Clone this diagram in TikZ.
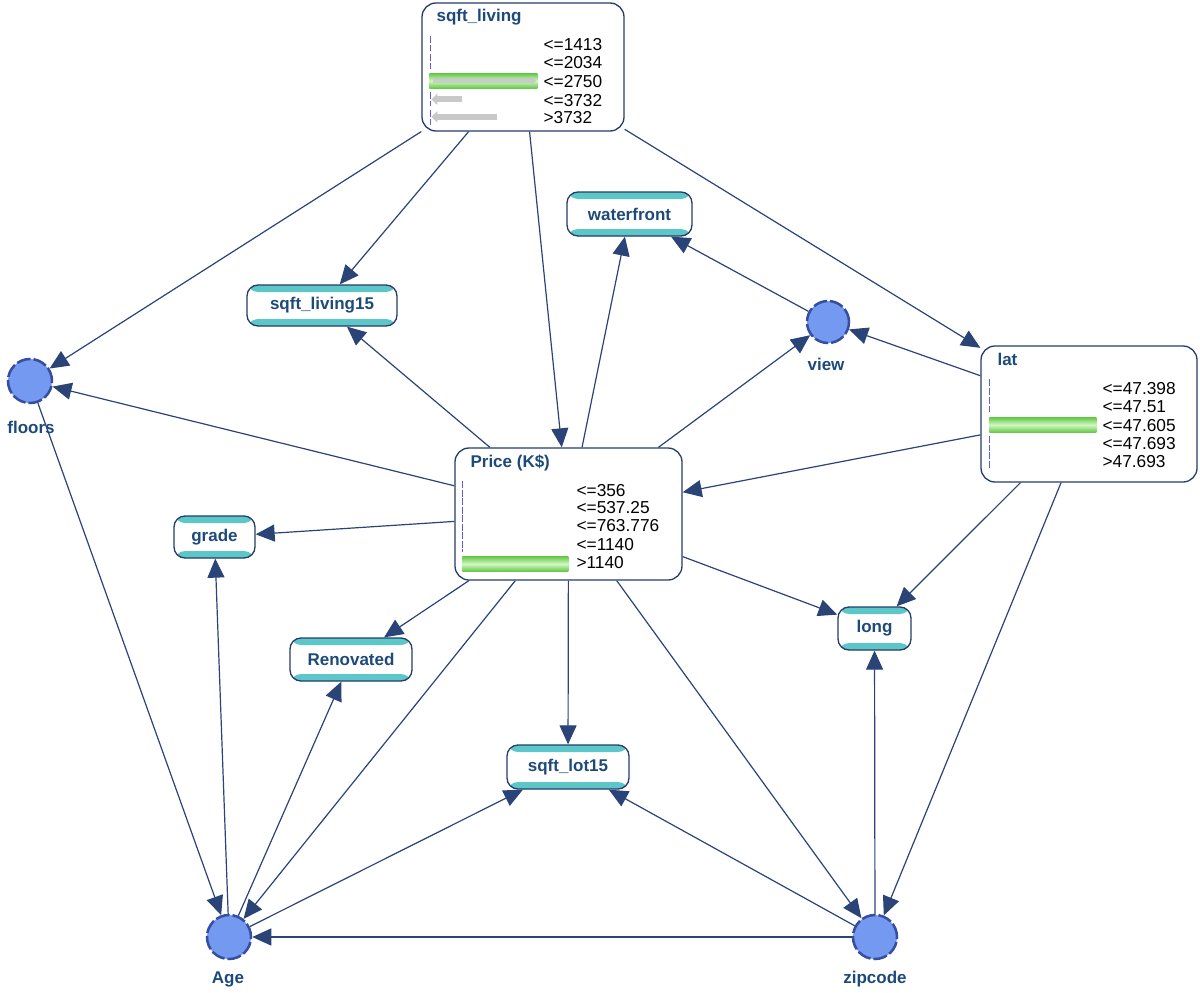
\documentclass[tikz,border=0pt]{standalone}
\usepackage{fontspec}
\setmainfont{Liberation Sans}
\usetikzlibrary{arrows.meta,calc}
\definecolor{edgec}{RGB}{42,68,120}
\definecolor{txtc}{RGB}{30,74,122}
\definecolor{bordc}{RGB}{36,60,105}
\definecolor{tealc}{RGB}{92,198,200}
\definecolor{circf}{RGB}{115,153,240}
\definecolor{circb}{RGB}{55,78,160}
\definecolor{gdark}{RGB}{100,200,70}
\definecolor{glight}{RGB}{210,247,195}
\definecolor{ghost}{RGB}{200,200,200}
\definecolor{zeroc}{RGB}{95,95,225}
\tikzset{
  edge/.style={draw=edgec, line width=1.2pt, -{Triangle[length=19pt,width=17pt]}},
  histbox/.style={draw=bordc, line width=1.3pt, fill=white, rounded corners=14pt, inner sep=0pt},
  pill/.style={draw=bordc, line width=1.3pt, fill=white, rounded corners=11pt, inner sep=0pt,
    font=\fontsize{17}{19}\selectfont\bfseries, text=txtc,
    path picture={
      \fill[tealc] (path picture bounding box.north west) rectangle ([yshift=-7pt]path picture bounding box.north east);
      \fill[tealc] (path picture bounding box.south west) rectangle ([yshift=7pt]path picture bounding box.south east);}},
  circ/.style={circle, fill=circf, draw=circb, line width=2.5pt, dash pattern=on 14pt off 3pt, minimum size=44pt, inner sep=0pt},
  lbl/.style={font=\fontsize{17}{19}\selectfont\bfseries, text=txtc},
  ttl/.style={font=\fontsize{17}{19}\selectfont\bfseries, text=txtc, anchor=base west, inner sep=0pt},
  rowtxt/.style={font=\fontsize{17.3}{19}\selectfont, anchor=base west, inner sep=0pt},
  gbar/.style={top color=gdark, bottom color=gdark, middle color=glight},
  ghostarrow/.style={draw=ghost, line width=6pt, -{Triangle[length=6pt,width=11pt]}},
  zeroline/.style={draw=zeroc, line width=1.3pt, dash pattern=on 7pt off 1.5pt}
}
\begin{document}
\begin{tikzpicture}[x=1pt,y=-1pt]
\useasboundingbox[fill=white] (0,0) rectangle (1200,993);

% histogram boxes
\node[histbox, minimum width=202pt, minimum height=128pt] (sl) at (523,67) {};
\node[histbox, minimum width=216pt, minimum height=136pt] (lat) at (1089,414) {};
\node[histbox, minimum width=227pt, minimum height=132pt] (pr) at (568.5,514) {};

% pills
\node[pill, minimum width=125pt, minimum height=44pt] (wf) at (629.5,214) {waterfront};
\node[pill, minimum width=150pt, minimum height=41pt] (sl15) at (322,305.5) {sqft\_living15};
\node[pill, minimum width=81pt, minimum height=42pt] (gr) at (214.5,537) {grade};
\node[pill, minimum width=122pt, minimum height=43pt] (ren) at (351,659.5) {Renovated};
\node[pill, minimum width=73pt, minimum height=43pt] (lg) at (874.5,628.5) {long};
\node[pill, minimum width=122pt, minimum height=44pt] (lot) at (568,767) {sqft\_lot15};

% circles
\node[circ] (fl) at (30,381) {};
\node[circ, minimum size=42pt] (vw) at (828,322) {};
\node[circ] (age) at (229,937) {};
\node[circ] (zip) at (875,937) {};
\node[lbl] (flL) at (31,427) {floors};
\node[lbl] (vwL) at (826,364) {view};
\node[lbl] (ageL) at (228,979) {Age};
\node[lbl] (zipL) at (875,979) {zipcode};

% sqft_living contents
\begin{scope}[shift={(sl.north west)}]
  \node[ttl] (slT) at (15,19) {sqft\_living};
  \draw[zeroline] (9,34) -- (9,49);
  \draw[zeroline] (9,52) -- (9,67);
  \shade[gbar] (8,71) rectangle (116,86);
  \draw[ghostarrow, line width=5pt, opacity=0.85, -{Triangle[length=5pt,width=9pt]}] (12,78.5) -- (115,78.5);
  \draw[zeroline] (9,90) -- (9,104);
  \draw[zeroline] (9,108) -- (9,123);
  \draw[ghostarrow] (41,97) -- (10,97);
  \draw[ghostarrow] (76,114.5) -- (10,114.5);
  \node[rowtxt] (sl1) at (122,48) {<=1413};
  \node[rowtxt] (sl2) at (122,66) {<=2034};
  \node[rowtxt] (sl3) at (122,85) {<=2750};
  \node[rowtxt] (sl4) at (122,104) {<=3732};
  \node[rowtxt] (sl5) at (122,121) {>3732};
\end{scope}

% lat contents
\begin{scope}[shift={(lat.north west)}]
  \node[ttl] (latT) at (17,20) {lat};
  \draw[zeroline] (9,34) -- (9,51);
  \draw[zeroline] (9,52) -- (9,67);
  \shade[gbar] (9,72) rectangle (116,87);
  \draw[zeroline] (9,91) -- (9,106);
  \draw[zeroline] (9,107) -- (9,124);
  \node[rowtxt] (lat1) at (122,49) {<=47.398};
  \node[rowtxt] (lat2) at (122,67) {<=47.51};
  \node[rowtxt] (lat3) at (122,86) {<=47.605};
  \node[rowtxt] (lat4) at (122,104) {<=47.693};
  \node[rowtxt] (lat5) at (122,122) {>47.693};
\end{scope}

% Price contents
\begin{scope}[shift={(pr.north west)}]
  \node[ttl] (prT) at (16,20) {Price (K\$)};
  \draw[zeroline] (8,34) -- (8,105);
  \shade[gbar] (8,109) rectangle (114,124);
  \node[rowtxt] (pr1) at (122,49) {<=356};
  \node[rowtxt] (pr2) at (122,66) {<=537.25};
  \node[rowtxt] (pr3) at (122,84) {<=763.776};
  \node[rowtxt] (pr4) at (122,103) {<=1140};
  \node[rowtxt] (pr5) at (122,121) {>1140};
\end{scope}

% edges
\draw[edge] (sl) -- (fl);
\draw[edge] (sl) -- (sl15);
\draw[edge] (sl) -- (pr);
\draw[edge] (sl) -- (lat);
\draw[edge] (pr) -- (wf);
\draw[edge] (vw) -- (wf);
\draw[edge] (pr) -- (vw);
\draw[edge] (lat) -- (vw);
\draw[edge] (lat) -- (pr);
\draw[edge] (pr) -- (sl15);
\draw[edge] (pr) -- (fl);
\draw[edge] (pr) -- (gr);
\draw[edge] (pr) -- (ren);
\draw[edge] (pr) -- (lg);
\draw[edge] (lat) -- (lg);
\draw[edge] (lat) -- (zip);
\draw[edge] (pr) -- (age);
\draw[edge] (pr) -- (lot);
\draw[edge] (pr) -- (zip);
\draw[edge] (fl) -- (age);
\draw[edge] (age) -- (gr);
\draw[edge] (age) -- (ren);
\draw[edge] (age) -- (lot);
\draw[edge] (zip) -- (lot);
\draw[edge] (zip) -- (lg);
\draw[edge] (zip) -- (age);
\end{tikzpicture}
\end{document}
